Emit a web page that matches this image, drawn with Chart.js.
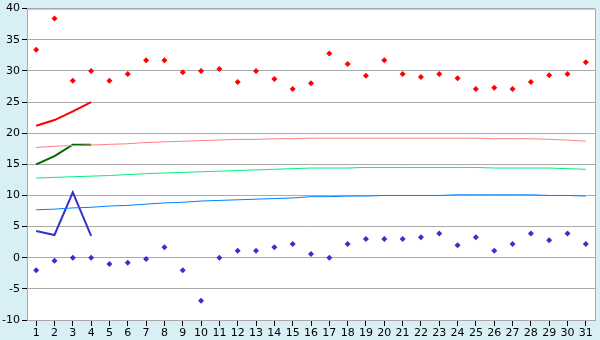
<!DOCTYPE html>
<html>
<head>
<meta charset="utf-8">
<script src="https://cdn.jsdelivr.net/npm/chart.js@4.4.0/dist/chart.umd.min.js"></script>
<style>
  html, body { margin: 0; padding: 0; background: #d8eff5; }
  #wrap { width: 600px; height: 340px; }
</style>
</head>
<body>
<div id="wrap"><canvas id="myChart" width="600" height="340"></canvas></div>
<script>
const dias = ['1','2','3','4','5','6','7','8','9','10','11','12','13','14','15','16','17','18','19','20','21','22','23','24','25','26','27','28','29','30','31'];

const maximas = [33.4, 38.4, 28.4, 30.0, 28.4, 29.5, 31.7, 31.7, 29.8, 30.0, 30.3, 28.2, 30.0, 28.7, 27.1, 28.0,
    32.8, 31.1, 29.2, 31.7, 29.5, 29.0, 29.5, 28.8, 27.1, 27.3, 27.1, 28.2, 29.3, 29.5, 31.4];
const minimas = [-2.0, -0.5, 0.0, 0.0, -1.0, -0.8, -0.2, 1.7, -2.0, -6.9, 0.0, 1.1, 1.1, 1.7, 2.2, 0.6,
    0.0, 2.2, 3.0, 3.0, 3.0, 3.3, 3.9, 2.0, 3.3, 1.1, 2.2, 3.9, 2.8, 3.9, 2.2];

// medias normales (lineas finas)
const normalMax = [17.7, 17.9, 18.0, 18.1, 18.2, 18.3, 18.5, 18.6, 18.7, 18.8, 18.9, 19.0, 19.0, 19.1, 19.1, 19.2,
    19.2, 19.2, 19.2, 19.2, 19.2, 19.2, 19.2, 19.2, 19.2, 19.1, 19.1, 19.1, 19.0, 18.9, 18.7];
const normalMed = [12.8, 12.9, 13.0, 13.1, 13.2, 13.35, 13.5, 13.6, 13.7, 13.8, 13.9, 14.0, 14.1, 14.2, 14.3, 14.4,
    14.4, 14.4, 14.5, 14.5, 14.5, 14.5, 14.5, 14.5, 14.5, 14.4, 14.4, 14.4, 14.4, 14.3, 14.2];
const normalMin = [7.7, 7.8, 8.0, 8.1, 8.3, 8.4, 8.6, 8.8, 8.9, 9.1, 9.2, 9.3, 9.4, 9.5, 9.6, 9.8,
    9.8, 9.9, 9.9, 10.0, 10.0, 10.0, 10.0, 10.1, 10.1, 10.1, 10.1, 10.1, 10.0, 10.0, 9.9];

// medias de los primeros dias
const mediaMax = [21.2, 22.1, 23.5, 25.0];
const mediaMed = [15.0, 16.3, 18.15, 18.15];
const mediaMin = [4.3, 3.65, 10.5, 3.5];

const fondoPlot = {
    id: 'fondoPlot',
    beforeDraw(chart) {
        const { ctx, chartArea: a } = chart;
        ctx.save();
        ctx.fillStyle = '#ffffff';
        ctx.fillRect(a.left, a.top, a.right - a.left, a.bottom - a.top);
        ctx.restore();
    },
    afterDraw(chart) {
        const { ctx, chartArea: a } = chart;
        ctx.save();
        ctx.strokeStyle = '#a8a8a8';
        ctx.lineWidth = 1;
        ctx.beginPath();
        ctx.moveTo(a.left, a.top + 0.5);
        ctx.lineTo(a.right + 0.5, a.top + 0.5);
        ctx.lineTo(a.right + 0.5, a.bottom);
        ctx.stroke();
        ctx.restore();
    }
};

const linea = (data, color, ancho) => ({
    type: 'line',
    data: data,
    borderColor: color,
    borderWidth: ancho,
    pointRadius: 0,
    fill: false,
    tension: 0
});

const puntos = (data, color) => ({
    type: 'line',
    data: data,
    showLine: false,
    pointStyle: 'rectRot',
    pointRadius: 3,
    pointBackgroundColor: color,
    pointBorderColor: color,
    pointBorderWidth: 0
});

Chart.defaults.font.family = 'DejaVu Sans';
Chart.defaults.font.size = 11;
Chart.defaults.color = '#000';

let ctx = document.getElementById('myChart').getContext('2d');
let myChart = new Chart(ctx, {
    type: 'line',
    data: {
        labels: dias,
        datasets: [
            linea(normalMax, '#ff8080', 1),
            linea(normalMed, '#00f080', 1),
            linea(normalMin, '#0080ff', 1),
            linea(mediaMax, '#ff0000', 2),
            linea(mediaMed, '#006600', 2),
            linea(mediaMin, '#3333cc', 2),
            puntos(maximas, '#ff0000'),
            puntos(minimas, '#3333cc')
        ]
    },
    options: {
        responsive: false,
        animation: false,
        layout: { padding: { top: 5, right: 5, left: 0, bottom: 0 } },
        plugins: { legend: { display: false }, tooltip: { enabled: false } },
        scales: {
            x: {
                offset: true,
                grid: { drawOnChartArea: false, drawTicks: true, tickLength: 6, tickColor: '#000', offset: false },
                border: { color: '#a8a8a8' },
                ticks: { padding: 1, maxRotation: 0, autoSkip: false },
                afterFit: s => { s.height = 20; }
            },
            y: {
                min: -10,
                max: 40,
                grid: { color: '#aaaaaa', tickLength: 5, tickColor: '#000' },
                border: { color: '#a8a8a8' },
                ticks: { stepSize: 5, padding: 2 },
                afterFit: s => { s.width = 27; }
            }
        }
    },
    plugins: [fondoPlot]
});
</script>
</body>
</html>
